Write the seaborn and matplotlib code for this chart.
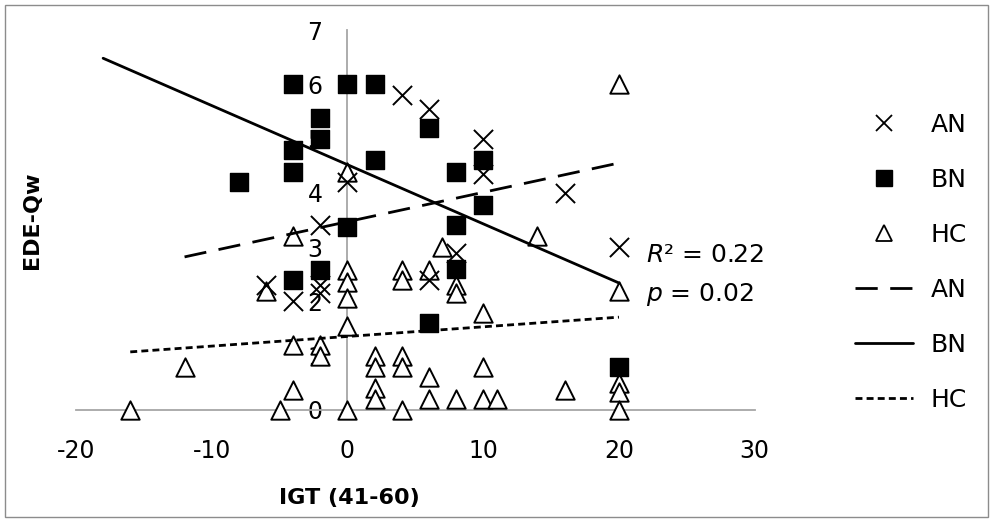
import numpy as np
import pandas as pd
import matplotlib
matplotlib.use("Agg")
import matplotlib.pyplot as plt
from matplotlib.lines import Line2D
from matplotlib.patches import Rectangle
import seaborn as sns

# values
an_x = [0, -2, 4, 6, 10, 10, 16, 8, 20, -6, -4, -2, -2, 6]
an_y = [4.2, 3.4, 5.8, 5.55, 5.0, 4.35, 4.0, 2.9, 3.0, 2.3, 2.0, 2.3, 2.15, 2.4]

bn_x = [-4, 0, 2, -2, -2, -4, -4, -8, 6, 2, 10, 8, 10, 0, 8, -4, -2, 8, 6, 20]
bn_y = [6.0, 6.0, 6.0, 5.38, 5.0, 4.79, 4.38, 4.2, 5.2, 4.6, 4.6, 4.38, 3.78, 3.37, 3.4, 2.4, 2.58, 2.6, 1.6, 0.8]

hc_x = [20, 0, -4, 7, 14, -6, 0, 0, 0, 0, 4, 4, 6, 8, 8, 20, 10, -4, -2, -2, -12, -4,
        2, 2, 4, 4, 2, 2, 6, 6, 8, 10, 11, 10, 16, 20, 20, -16, -5, 0, 4, 20]
hc_y = [6.0, 4.38, 3.2, 3.0, 3.2, 2.2, 2.58, 2.36, 2.06, 1.55, 2.58, 2.4, 2.58, 2.3, 2.15, 2.2, 1.78, 1.2, 1.2, 1.0, 0.8, 0.37,
        1.0, 0.8, 1.0, 0.8, 0.4, 0.2, 0.6, 0.2, 0.2, 0.2, 0.2, 0.8, 0.37, 0.5, 0.33, 0, 0, 0, 0, 0]

# trend line end points
an_fit_x = [-12, 20]
an_fit_y = [2.82, 4.55]
bn_fit_x = [-18, 20]
bn_fit_y = [6.48, 2.34]
hc_fit_x = [-16, 20]
hc_fit_y = [1.07, 1.71]

groups = ["AN", "BN", "HC"]
x_ticks = [-20, -10, 0, 10, 20, 30]
y_ticks = [0, 1, 2, 3, 4, 5, 6, 7]

sns.set_style("white")
plt.rcParams['font.family'] = ['DejaVu Sans']
plt.rcParams['mathtext.fontset'] = 'dejavusans'
plt.rcParams['text.color'] = 'black'
plt.rcParams['xtick.labelcolor'] = 'black'
plt.rcParams['ytick.labelcolor'] = 'black'
plt.rcParams['axes.labelcolor'] = 'black'

axis_grey = '#a6a6a6'

fig = plt.figure(figsize=(9.93, 5.22), dpi=100)
ax = fig.add_axes([0.0765, 0.2146, 0.6835, 0.7279])

df_hc = pd.DataFrame({'x': hc_x, 'y': hc_y})
df_bn = pd.DataFrame({'x': bn_x, 'y': bn_y})
df_an = pd.DataFrame({'x': an_x, 'y': an_y})

sns.scatterplot(data=df_hc, x='x', y='y', marker='^', s=175, facecolor='white',
                edgecolor='black', linewidth=1.4, ax=ax, clip_on=False, zorder=3)
sns.scatterplot(data=df_bn, x='x', y='y', marker='s', s=175, color='black',
                edgecolor='black', linewidth=1, ax=ax, clip_on=False, zorder=3)
sns.scatterplot(data=df_an, x='x', y='y', marker='x', s=190, color='black',
                linewidth=1.4, ax=ax, clip_on=False, zorder=3)

sns.lineplot(x=an_fit_x, y=an_fit_y, color='black', linewidth=2,
             linestyle=(0, (8, 4.5)), ax=ax, zorder=4)
sns.lineplot(x=bn_fit_x, y=bn_fit_y, color='black', linewidth=2, ax=ax, zorder=4)
sns.lineplot(x=hc_fit_x, y=hc_fit_y, color='black', linewidth=2,
             linestyle=(0, (2.5, 1.5)), ax=ax, zorder=4)

ax.set_xlim(-20, 30)
ax.set_ylim(0, 7)
ax.set_xticks(x_ticks)
ax.set_yticks(y_ticks)
ax.set_xticklabels([str(v) for v in x_ticks])
ax.set_yticklabels([str(v) for v in y_ticks])

for side in ['top', 'right']:
    ax.spines[side].set_visible(False)
ax.spines['left'].set_position(('data', 0))
ax.spines['bottom'].set_position(('data', 0))
for side in ['left', 'bottom']:
    ax.spines[side].set_color(axis_grey)
    ax.spines[side].set_linewidth(1.3)
    ax.spines[side].set_zorder(1)

ax.tick_params(axis='x', direction='out', length=6, width=1.3, color=axis_grey,
               labelsize=17, pad=15)
ax.tick_params(axis='y', direction='out', length=7, width=1.3, color=axis_grey,
               labelsize=17, pad=11)

ax.set_xlabel('IGT (41-60)', fontsize=16, fontweight='bold')
ax.set_ylabel('EDE-Qw', fontsize=16, fontweight='bold')
ax.xaxis.set_label_coords(0.4035, -0.205)
ax.yaxis.set_label_coords(-0.05, 0.5)

ax.text(22.0, 2.85, '$R$² = 0.22', fontsize=18, va='center', ha='left')
ax.text(22.0, 2.12, '$p$ = 0.02', fontsize=18, va='center', ha='left')

handles = [
    Line2D([], [], marker='x', color='black', linestyle='none', markersize=11.5, mew=1.3),
    Line2D([], [], marker='s', color='black', linestyle='none', markersize=11.5),
    Line2D([], [], marker='^', markerfacecolor='white', markeredgecolor='black',
           linestyle='none', markersize=11.5, mew=1.3),
    Line2D([], [], color='black', linewidth=2, linestyle=(0, (8, 4.5))),
    Line2D([], [], color='black', linewidth=2),
    Line2D([], [], color='black', linewidth=2, linestyle=(0, (2.5, 1.5))),
]
fig.legend(handles, groups + groups, loc='upper left',
           bbox_to_anchor=(855 / 993, 1 - 113 / 522), bbox_transform=fig.transFigure,
           frameon=False, fontsize=18, handlelength=2.3, handletextpad=0.72,
           labelspacing=1.24, borderpad=0, borderaxespad=0)

# outer frame around the chart
fig.patches.append(Rectangle((5 / 993, 5 / 522), 983 / 993, 512 / 522, fill=False,
                             edgecolor='#8c8c8c', linewidth=1,
                             transform=fig.transFigure, figure=fig))

fig.savefig('out.png', dpi=100)
